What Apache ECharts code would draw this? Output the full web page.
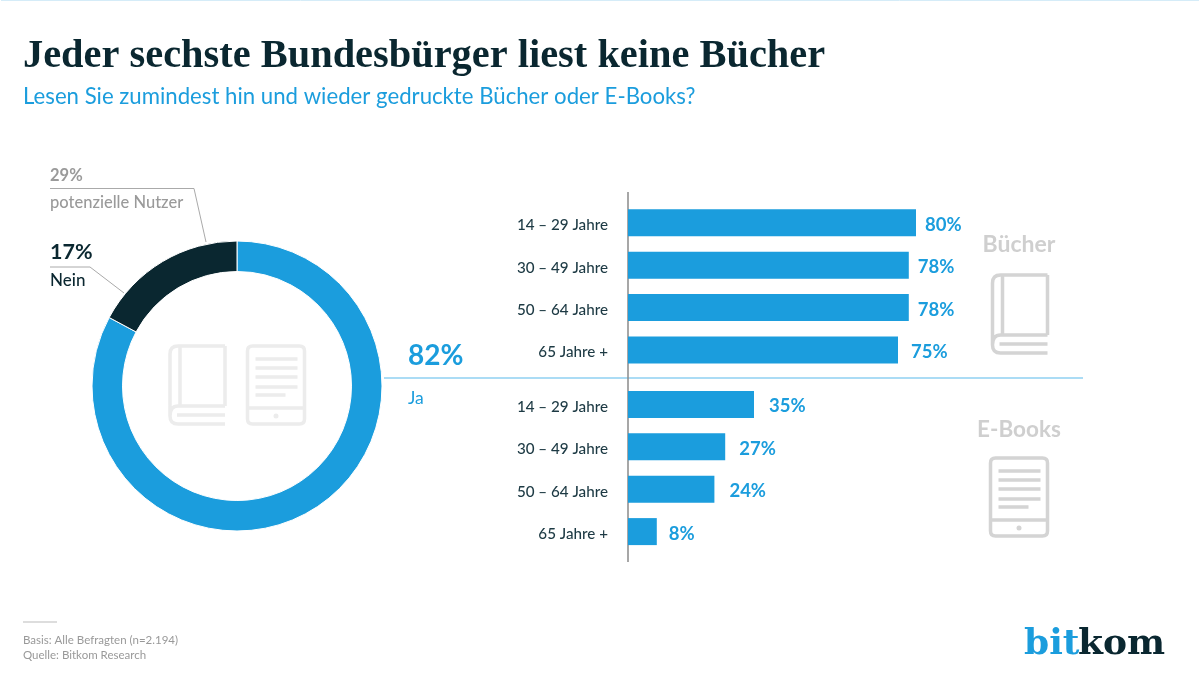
<!DOCTYPE html>
<html>
<head>
<meta charset="utf-8">
<style>
html, body { margin: 0; padding: 0; background: #fff; }
#chart { width: 1200px; height: 677px; }
</style>
<script src="https://cdn.jsdelivr.net/npm/echarts@6/dist/echarts.min.js"></script>
</head>
<body>
<div id="chart"></div>
<script>
var ageGroups = ['14 – 29 Jahre', '30 – 49 Jahre', '50 – 64 Jahre', '65 Jahre +'];
var bookValues = [80, 78, 78, 75];
var ebookValues = [35, 27, 24, 8];
var donutNames = ['Ja', 'Nein'];
var donutValues = [82, 17];
var potentialValue = 29;
var potentialName = 'potenzielle Nutzer';

var BLUE = '#1b9ddd';
var DARK = '#0a2730';
var SANS = 'Lato, "Noto Sans", sans-serif';
var SERIF = '"Liberation Serif", serif';
var LOGO = '"DejaVu Serif", serif';

// icon outlines, registered so the graphic component can use them by name
echarts.graphic.registerShape('bookIcon', echarts.graphic.extendPath(
    'M57 2H10Q2 2 2 10V72Q2 80 10 80H57M12 3V62M57 2V62M2 72Q2 62 10 62H57M9 71H57', {}));
echarts.graphic.registerShape('readerIcon', echarts.graphic.extendPath(
    'M7 2H54Q59 2 59 7V75Q59 80 54 80H7Q2 80 2 75V7Q2 2 7 2Z' +
    'M10 15H52M10 24H52M10 33H52M10 43H52M10 51H40M2 64H59', {}));

function icon(name, x, y, color) {
    return {
        type: name,
        x: x,
        y: y,
        style: { fill: null, stroke: color, lineWidth: 3.5 }
    };
}

function readerDot(x, y, color) {
    return { type: 'circle', shape: { cx: x, cy: y, r: 2.5 }, style: { fill: color } };
}

function text(str, x, y, size, color, weight, align) {
    return {
        type: 'text',
        x: x,
        y: y,
        style: {
            text: str,
            fill: color,
            font: (weight || 'normal') + ' ' + size + 'px ' + SANS,
            textAlign: align || 'left',
            textVerticalAlign: 'middle'
        }
    };
}

function line(points, color, width) {
    return {
        type: 'polyline',
        shape: { points: points },
        style: { fill: null, stroke: color, lineWidth: width }
    };
}

function barGrid(top) {
    return { left: 628, top: top, width: 360, height: 169.6 };
}

function barX(index) {
    return { gridIndex: index, type: 'value', min: 0, max: 100, show: false };
}

function barY(index) {
    return {
        gridIndex: index,
        type: 'category',
        inverse: true,
        data: ageGroups,
        axisLine: { show: false },
        axisTick: { show: false },
        axisLabel: {
            margin: 20,
            color: '#1d3a44',
            fontFamily: SANS,
            fontSize: 15.2,
            fontWeight: 500,
            // labels sit a little below the bar centre
            verticalAlign: 'top',
            lineHeight: 5
        }
    };
}

function barSeries(index, values, gaps) {
    return {
        type: 'bar',
        xAxisIndex: index,
        yAxisIndex: index,
        data: values.map(function (v, i) {
            return { value: v, label: { distance: gaps[i] } };
        }),
        barWidth: 27,
        itemStyle: { color: BLUE },
        silent: true,
        label: {
            show: true,
            position: 'right',
            offset: [0, 2],
            formatter: '{c}%',
            color: BLUE,
            fontFamily: SANS,
            fontSize: 18.5,
            fontWeight: 'bold'
        }
    };
}

var option = {
    backgroundColor: '#fff',
    animation: false,
    title: {
        left: 23,
        top: 37,
        padding: 0,
        text: 'Jeder sechste Bundesbürger liest keine Bücher',
        subtext: 'Lesen Sie zumindest hin und wieder gedruckte Bücher oder E-Books?',
        itemGap: 9,
        textStyle: { color: DARK, fontFamily: SERIF, fontSize: 40.4, fontWeight: 'bold' },
        subtextStyle: { color: BLUE, fontFamily: SANS, fontSize: 22.2 }
    },
    grid: [barGrid(201.6), barGrid(383.2)],
    xAxis: [barX(0), barX(1)],
    yAxis: [barY(0), barY(1)],
    series: [
        {
            type: 'pie',
            center: [237, 386],
            radius: [114.5, 145],
            startAngle: 90,
            silent: true,
            label: { show: false },
            labelLine: { show: false },
            data: [
                { name: donutNames[0], value: donutValues[0], itemStyle: { color: BLUE } },
                { name: donutNames[1], value: donutValues[1], itemStyle: { color: DARK } }
            ],
            itemStyle: { borderColor: '#fff', borderWidth: 1 }
        },
        barSeries(0, bookValues, [9, 9, 9, 13]),
        barSeries(1, ebookValues, [15, 14, 15, 12])
    ],
    graphic: [
        line([[1, 0.5], [1199, 0.5]], '#d5ecf8', 1),
        line([[384, 378], [1083, 378]], '#8fd0f2', 1.5),
        line([[628, 192], [628, 562]], '#8a8a8a', 1.5),

        line([[50, 188.5], [194, 188.5], [206, 242]], '#aaaaaa', 1),
        line([[50, 267], [90, 267], [124, 293]], '#aaaaaa', 1),
        text(potentialValue + '%', 50, 176, 16.5, '#9a9a9a', 'bold'),
        text(potentialName, 50, 203, 16.5, '#9a9a9a', '500'),
        text(donutValues[1] + '%', 50, 252, 21.5, DARK, 'bold'),
        text(donutNames[1], 50, 281, 17, DARK, '500'),
        text(donutValues[0] + '%', 408, 356, 28, BLUE, 'bold'),
        text(donutNames[0], 408, 398, 17.5, BLUE),

        icon('bookIcon', 168, 344, '#ececec'),
        icon('readerIcon', 245.5, 344, '#ececec'),
        readerDot(276, 416, '#ececec'),

        text('Bücher', 1019, 245, 23, '#cfcfcf', 'bold', 'center'),
        text('E-Books', 1019, 430, 22.5, '#cfcfcf', 'bold', 'center'),
        icon('bookIcon', 990.5, 273, '#d4d4d4'),
        icon('readerIcon', 988.5, 456, '#d4d4d4'),
        readerDot(1019, 528, '#d4d4d4'),

        line([[23, 622], [57, 622]], '#bbbbbb', 1),
        text('Basis: Alle Befragten (n=2.194)', 23, 640, 11.5, '#999999'),
        text('Quelle: Bitkom Research', 23, 655, 11.5, '#999999'),

        {
            type: 'text',
            x: 1024,
            y: 645,
            style: { text: 'bit', fill: BLUE, font: 'bold 36px ' + LOGO, textVerticalAlign: 'middle' }
        },
        {
            type: 'text',
            x: 1078,
            y: 645,
            style: { text: 'kom', fill: DARK, font: 'bold 36px ' + LOGO, textVerticalAlign: 'middle' }
        }
    ]
};

var myChart = echarts.init(document.getElementById('chart'));
myChart.setOption(option);
</script>
</body>
</html>
